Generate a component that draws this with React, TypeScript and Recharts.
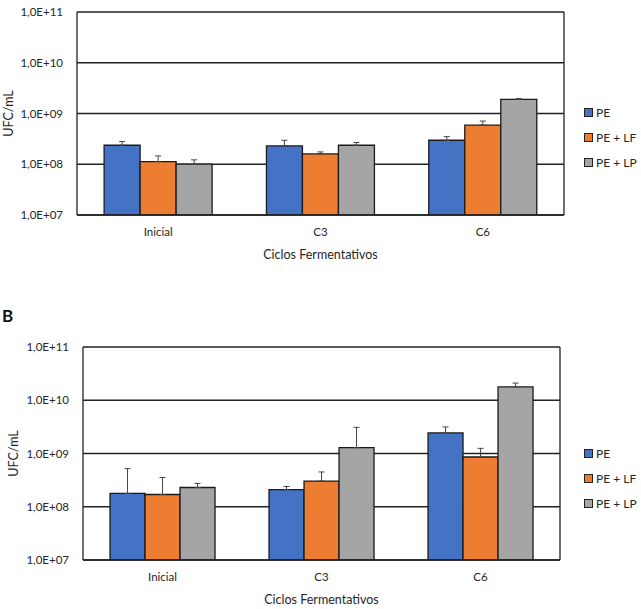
import {
  BarChart,
  Bar,
  XAxis,
  YAxis,
  CartesianGrid,
  ErrorBar,
  Legend,
} from "recharts";

const categories = ["Inicial", "C3", "C6"];
const seriesNames = ["PE", "PE + LF", "PE + LP"];
const seriesColors = ["#4472C4", "#ED7D31", "#A5A5A5"];

const yTicks = [1e7, 1e8, 1e9, 1e10, 1e11];
const yTickLabels = ["1,0E+07", "1,0E+08", "1,0E+09", "1,0E+10", "1,0E+11"];

// panel A (means and top of the error bars)
const peA = [2.37e8, 2.3e8, 2.97e8];
const peATop = [2.8e8, 2.97e8, 3.5e8];
const lfA = [1.13e8, 1.6e8, 5.9e8];
const lfATop = [1.46e8, 1.75e8, 7.1e8];
const lpA = [1.01e8, 2.37e8, 1.89e9];
const lpATop = [1.22e8, 2.68e8, 1.98e9];

// panel B
const peB = [1.78e8, 2.09e8, 2.43e9];
const peBTop = [5.2e8, 2.4e8, 3.15e9];
const lfB = [1.7e8, 3.04e8, 8.6e8];
const lfBTop = [3.55e8, 4.5e8, 1.25e9];
const lpB = [2.3e8, 1.29e9, 1.78e10];
const lpBTop = [2.74e8, 3.1e9, 2.1e10];

const FONT = "Lato, 'Open Sans', sans-serif";
const TEXT = "#262626";

function buildRows(vals: number[][], tops: number[][]) {
  return categories.map((cat, i) => {
    const row: Record<string, any> = { cat };
    vals.forEach((v, s) => {
      row["s" + s] = v[i];
      row["e" + s] = [0, tops[s][i] - v[i]];
    });
    return row;
  });
}

const dataA = buildRows([peA, lfA, lpA], [peATop, lfATop, lpATop]);
const dataB = buildRows([peB, lfB, lpB], [peBTop, lfBTop, lpBTop]);

const LegendBox = () => (
  <div style={{ fontFamily: FONT, fontSize: 12, color: TEXT }}>
    {seriesNames.map((n, i) => (
      <div
        key={n}
        style={{ display: "flex", alignItems: "center", height: 25 }}
      >
        <span
          style={{
            display: "inline-block",
            width: 7,
            height: 7,
            background: seriesColors[i],
            border: "1px solid #222",
            marginRight: 3,
          }}
        />
        <span>{n}</span>
      </div>
    ))}
  </div>
);

interface PanelProps {
  data: Record<string, any>[];
  height: number;
  marginTop: number;
  yWidth: number;
  rightWidth: number;
  xHeight: number;
  xLabelOffset: number;
  yLabelOffset: number;
  legendTop: number;
  gap: string;
}

function Panel(p: PanelProps) {
  return (
    <BarChart
      width={641}
      height={p.height}
      data={p.data}
      margin={{ top: p.marginTop, right: 0, left: 0, bottom: 0 }}
      barGap={0}
      barCategoryGap={p.gap}
      style={{ fontFamily: FONT }}
    >
      <CartesianGrid vertical={false} stroke="#222" strokeWidth={1.3} />
      <XAxis
        dataKey="cat"
        height={p.xHeight}
        tickLine={false}
        tickMargin={7}
        axisLine={{ stroke: "#222", strokeWidth: 1.3 }}
        tick={{ fill: TEXT, fontSize: 11.5 }}
        label={{
          value: "Ciclos Fermentativos",
          position: "insideBottom",
          offset: p.xLabelOffset,
          style: { fill: TEXT, fontSize: 12.5 },
        }}
      />
      <YAxis
        scale="log"
        domain={[1e7, 1e11]}
        ticks={yTicks}
        allowDataOverflow
        width={p.yWidth}
        tickLine={false}
        tickMargin={8}
        axisLine={{ stroke: "#222", strokeWidth: 1.3 }}
        tick={{ fill: TEXT, fontSize: 11.5 }}
        tickFormatter={(_v: number, i: number) => yTickLabels[i]}
        label={{
          value: "UFC/mL",
          angle: -90,
          position: "insideLeft",
          offset: p.yLabelOffset,
          style: { textAnchor: "middle", fill: TEXT, fontSize: 12.5 },
        }}
      />
      <YAxis
        yAxisId="r"
        orientation="right"
        width={p.rightWidth}
        tick={false}
        tickLine={false}
        axisLine={{ stroke: "#222", strokeWidth: 1.3 }}
      />
      <Legend
        layout="vertical"
        align="center"
        verticalAlign="middle"
        wrapperStyle={{ left: 584, top: p.legendTop, width: 57 }}
        content={() => <LegendBox />}
      />
      {seriesNames.map((n, s) => (
        <Bar
          key={n}
          dataKey={"s" + s}
          name={n}
          fill={seriesColors[s]}
          stroke="#1a1a1a"
          strokeWidth={1.3}
          isAnimationActive={false}
        >
          <ErrorBar
            dataKey={"e" + s}
            direction="y"
            width={3}
            stroke="#444"
            strokeWidth={1}
          />
        </Bar>
      ))}
    </BarChart>
  );
}

export default function App() {
  return (
    <div
      style={{
        position: "absolute",
        left: 0,
        top: 0,
        width: 641,
        height: 609,
        background: "#fff",
        fontFamily: FONT,
      }}
    >
      <div style={{ position: "absolute", left: 0, top: 0 }}>
        <Panel
          data={dataA}
          height={270}
          marginTop={12}
          yWidth={77}
          rightWidth={77}
          xHeight={55}
          xLabelOffset={11}
          yLabelOffset={9}
          legendTop={100}
          gap="16.7%"
        />
      </div>
      <div
        style={{
          position: "absolute",
          left: 2,
          top: 305,
          fontWeight: 700,
          fontSize: 17,
          color: "#111",
        }}
      >
        B
      </div>
      <div style={{ position: "absolute", left: 0, top: 290 }}>
        <Panel
          data={dataB}
          height={319}
          marginTop={57}
          yWidth={83}
          rightWidth={81}
          xHeight={49}
          xLabelOffset={5}
          yLabelOffset={14}
          legendTop={151}
          gap="17%"
        />
      </div>
    </div>
  );
}
